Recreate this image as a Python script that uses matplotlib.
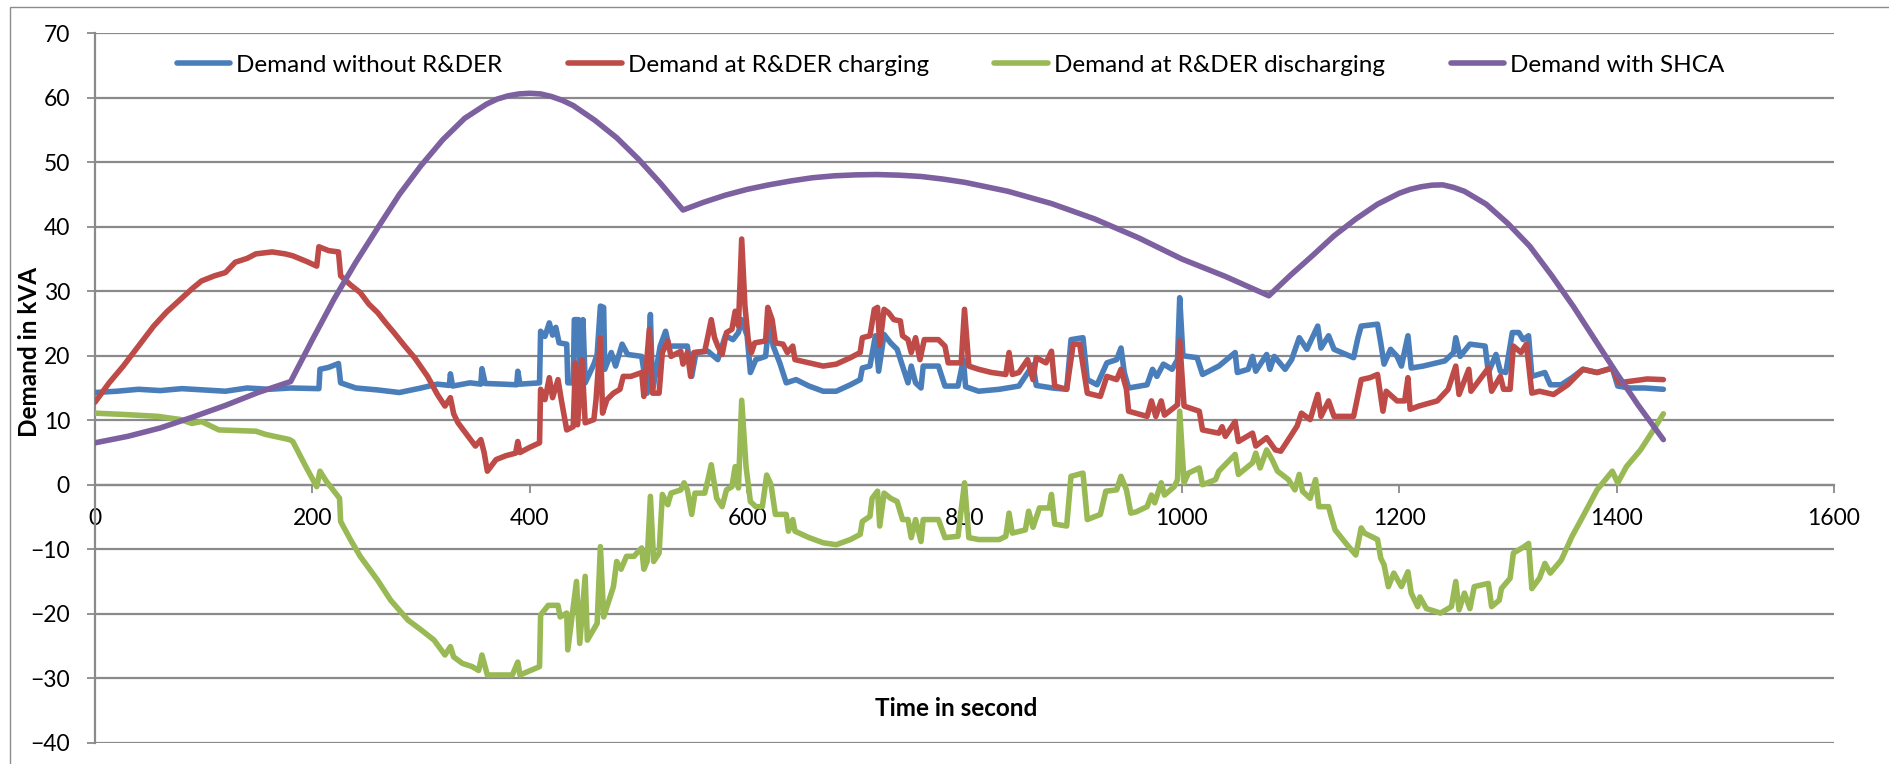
import numpy as np
import matplotlib
matplotlib.use("Agg")
import matplotlib.pyplot as plt
from matplotlib.patches import Rectangle

plt.rcParams['font.family'] = ['Lato', 'DejaVu Sans']

# (time in s, demand in kVA) read per series
without_der = [
    (0, 14.3), (20, 14.5), (40, 14.8), (60, 14.6), (80, 14.9), (100, 14.7), (120, 14.5), (140, 15.0),
    (160, 14.8), (180, 15.0), (206, 14.9), (207, 17.9), (215, 18.2), (224, 18.8), (226, 15.8), (240, 15.0),
    (260, 14.7), (280, 14.3), (300, 15.0), (315, 15.6), (326, 15.4), (327, 17.2), (329, 15.3), (345, 15.8),
    (355, 15.6), (356, 18.0), (359, 15.7), (375, 15.6), (388, 15.5), (389, 17.6), (391, 15.6), (409, 15.8),
    (410, 23.8), (414, 23.0), (418, 25.1), (421, 23.2), (424, 24.4), (427, 22.0), (434, 21.8), (435, 15.8),
    (440, 15.8), (441, 25.6), (445, 25.6), (446, 15.8), (448, 15.8), (449, 25.6), (451, 15.8), (459, 18.7),
    (462, 20.2), (465, 27.7), (468, 27.5), (469, 17.9), (475, 20.5), (479, 18.4), (485, 21.8), (490, 20.2),
    (503, 19.9), (508, 14.2), (511, 26.4), (513, 14.5), (520, 21.5), (525, 23.8), (528, 21.5), (545, 21.5),
    (549, 16.8), (553, 20.5), (564, 20.7), (573, 19.4), (580, 23.1), (587, 22.5), (592, 23.6), (595, 25.6),
    (600, 23.1), (603, 17.4), (608, 19.4), (617, 19.9), (620, 25.1), (624, 21.5), (630, 18.9), (636, 15.8),
    (645, 16.3), (657, 15.3), (670, 14.5), (682, 14.5), (695, 15.5), (704, 16.3), (706, 18.1), (713, 18.4),
    (718, 23.1), (721, 17.6), (726, 23.3), (732, 22.0), (738, 21.0), (743, 18.4), (748, 15.8), (751, 18.4),
    (755, 15.8), (760, 15.0), (762, 18.4), (776, 18.4), (782, 15.3), (794, 15.3), (799, 19.4), (801, 15.2),
    (813, 14.5), (832, 14.8), (850, 15.3), (863, 18.6), (866, 15.4), (881, 15.0), (894, 14.8), (898, 22.5),
    (909, 22.8), (913, 16.3), (922, 15.5), (931, 18.9), (940, 19.4), (944, 21.2), (947, 17.4), (951, 15.0),
    (968, 15.5), (973, 17.9), (977, 16.8), (983, 18.7), (991, 17.9), (996, 19.4), (998, 29.0), (1001, 20.0),
    (1014, 19.7), (1019, 17.1), (1034, 18.4), (1049, 20.5), (1051, 17.4), (1061, 17.9), (1065, 19.9),
    (1068, 17.6), (1078, 20.2), (1081, 17.9), (1085, 19.9), (1095, 17.9), (1101, 19.4), (1108, 22.8),
    (1115, 21.0), (1125, 24.6), (1128, 21.2), (1135, 23.1), (1140, 21.0), (1151, 20.2), (1158, 19.7),
    (1162, 22.8), (1165, 24.6), (1180, 24.9), (1183, 22.0), (1186, 18.7), (1192, 21.0), (1198, 19.9),
    (1202, 18.4), (1208, 23.1), (1211, 18.1), (1222, 18.4), (1242, 19.2), (1250, 20.5), (1252, 22.8),
    (1256, 19.9), (1265, 21.8), (1279, 21.5), (1282, 17.4), (1289, 20.2), (1293, 17.6), (1298, 17.4),
    (1304, 23.6), (1310, 23.6), (1314, 22.5), (1319, 23.1), (1322, 16.8), (1334, 17.4), (1339, 15.5),
    (1349, 15.5), (1359, 16.6), (1369, 17.9), (1382, 17.4), (1396, 18.1), (1401, 15.3), (1412, 15.0),
    (1426, 15.0), (1443, 14.8),
]

charging = [
    (0, 12.8), (13, 15.8), (26, 18.4), (40, 21.5), (54, 24.6), (66, 26.8), (79, 28.8), (90, 30.5),
    (98, 31.6), (110, 32.4), (120, 32.9), (129, 34.5), (140, 35.1), (148, 35.8), (163, 36.1), (175, 35.8),
    (182, 35.5), (195, 34.6), (204, 33.9), (206, 36.9), (215, 36.3), (224, 36.1), (226, 32.4), (235, 31.0),
    (244, 29.8), (252, 28.0), (260, 26.7), (268, 25.0), (275, 23.6), (285, 21.5), (294, 19.7), (306, 16.8),
    (315, 14.0), (322, 12.2), (327, 13.5), (330, 11.0), (334, 9.6), (342, 7.8), (350, 6.0), (355, 7.0),
    (358, 5.0), (361, 2.1), (369, 3.9), (378, 4.5), (387, 4.9), (389, 6.7), (391, 5.0), (400, 5.8),
    (409, 6.5), (410, 14.8), (414, 13.2), (418, 16.6), (421, 13.5), (426, 16.3), (429, 13.2), (434, 8.5),
    (440, 9.0), (442, 18.9), (444, 9.3), (448, 19.4), (451, 9.6), (459, 10.1), (461, 13.2), (465, 22.8),
    (467, 11.1), (471, 13.2), (477, 14.2), (483, 14.8), (486, 16.8), (493, 16.8), (503, 17.4), (505, 13.7),
    (510, 24.1), (513, 14.2), (519, 14.2), (522, 20.5), (527, 22.3), (530, 19.9), (539, 20.7), (541, 18.7),
    (545, 20.5), (548, 16.8), (551, 20.5), (561, 20.7), (564, 23.1), (567, 25.6), (570, 22.8), (573, 21.5),
    (577, 20.2), (581, 23.6), (586, 24.1), (589, 26.9), (592, 24.6), (595, 38.1), (598, 27.7), (601, 22.5),
    (604, 20.5), (607, 22.0), (617, 22.3), (619, 27.5), (623, 25.6), (626, 22.0), (633, 21.8), (637, 20.5),
    (642, 21.5), (644, 19.4), (657, 18.9), (670, 18.4), (682, 18.7), (695, 19.7), (704, 20.5), (706, 22.8),
    (713, 23.1), (717, 27.2), (720, 27.5), (722, 21.6), (726, 27.2), (730, 26.7), (735, 25.6), (741, 25.4),
    (743, 23.1), (748, 22.5), (751, 20.5), (755, 22.8), (759, 19.4), (763, 22.5), (776, 22.5), (782, 21.5),
    (785, 18.9), (797, 18.9), (800, 27.2), (804, 18.4), (813, 17.9), (825, 17.4), (838, 17.1), (841, 20.5),
    (844, 17.1), (850, 17.4), (858, 19.4), (863, 16.3), (866, 19.7), (875, 18.9), (880, 20.7), (883, 15.3),
    (894, 14.8), (900, 21.8), (906, 21.8), (913, 14.2), (925, 13.7), (931, 16.8), (940, 16.3), (944, 17.9),
    (949, 14.8), (951, 11.4), (968, 10.6), (972, 13.0), (976, 10.6), (981, 13.0), (984, 10.8), (996, 12.4),
    (998, 22.3), (1002, 12.2), (1016, 11.4), (1019, 8.5), (1034, 8.0), (1037, 9.0), (1040, 7.5), (1049, 9.8),
    (1052, 6.7), (1065, 8.0), (1068, 6.0), (1078, 7.3), (1086, 5.4), (1091, 5.2), (1098, 7.0), (1106, 9.1),
    (1110, 11.1), (1118, 10.1), (1125, 14.0), (1128, 10.6), (1135, 13.0), (1140, 10.6), (1158, 10.6),
    (1165, 16.3), (1173, 16.6), (1180, 17.1), (1185, 11.4), (1188, 14.5), (1198, 13.0), (1205, 13.0),
    (1208, 16.6), (1210, 11.7), (1218, 12.2), (1235, 13.0), (1245, 14.8), (1252, 18.4), (1255, 14.0),
    (1264, 17.9), (1266, 14.5), (1282, 18.1), (1285, 14.5), (1293, 16.8), (1296, 14.8), (1302, 14.8),
    (1305, 21.5), (1312, 20.5), (1317, 21.8), (1322, 14.2), (1329, 14.5), (1342, 14.0), (1355, 15.5),
    (1369, 17.9), (1382, 17.4), (1396, 18.1), (1402, 15.8), (1415, 16.1), (1428, 16.4), (1443, 16.3),
]

discharging = [
    (0, 11.1), (26, 10.9), (58, 10.6), (79, 10.1), (89, 9.5), (98, 9.8), (114, 8.5), (132, 8.4),
    (148, 8.3), (157, 7.8), (179, 7.0), (182, 6.7), (194, 2.8), (204, -0.3), (207, 2.1), (213, 0.5),
    (225, -2.1), (226, -5.7), (235, -8.5), (244, -11.1), (260, -14.8), (272, -17.9), (288, -21.0),
    (300, -22.5), (312, -24.1), (322, -26.4), (327, -25.1), (330, -26.7), (338, -27.7), (347, -28.2),
    (353, -28.8), (356, -26.4), (361, -29.5), (384, -29.5), (389, -27.5), (391, -29.5), (409, -28.2),
    (410, -20.2), (417, -18.7), (426, -18.7), (428, -20.5), (434, -19.9), (435, -25.6), (443, -15.0),
    (446, -24.6), (451, -14.2), (453, -24.1), (462, -21.5), (465, -9.6), (468, -20.5), (477, -15.8),
    (480, -11.9), (484, -13.1), (489, -11.1), (496, -11.1), (500, -10.3), (503, -9.8), (505, -13.1),
    (508, -11.9), (511, -1.8), (514, -11.9), (519, -10.6), (522, -1.5), (527, -3.1), (530, -1.3),
    (539, -0.8), (542, 0.3), (545, -0.8), (549, -4.6), (552, -1.3), (561, -1.3), (564, 0.8), (567, 3.1),
    (572, -2.1), (577, -3.4), (581, -0.8), (586, -0.3), (589, 2.8), (592, -0.5), (595, 13.1), (599, 2.8),
    (603, -2.6), (608, -3.4), (614, -3.4), (618, 1.5), (622, 0.0), (626, -4.6), (636, -4.6), (638, -7.2),
    (642, -5.4), (644, -7.2), (657, -8.2), (670, -9.0), (682, -9.3), (695, -8.5), (704, -7.7), (706, -5.7),
    (713, -4.9), (715, -2.1), (720, -1.0), (722, -6.4), (726, -1.3), (732, -2.1), (738, -2.6), (743, -5.4),
    (748, -5.4), (751, -8.2), (755, -5.4), (760, -8.8), (762, -5.4), (776, -5.4), (782, -8.2), (794, -8.0),
    (800, 0.3), (804, -8.2), (813, -8.5), (832, -8.5), (838, -8.0), (841, -4.4), (844, -7.5), (856, -7.0),
    (859, -4.1), (863, -6.6), (869, -3.6), (878, -3.6), (880, -1.5), (883, -6.1), (894, -6.4), (898, 1.3),
    (909, 1.8), (913, -5.4), (925, -4.6), (930, -1.0), (940, -0.8), (944, 1.3), (949, -0.8), (953, -4.4),
    (958, -4.2), (968, -3.4), (972, -1.6), (975, -2.8), (981, 0.3), (984, -1.6), (993, -0.3), (996, 0.8),
    (998, 11.4), (1002, 0.3), (1006, 1.8), (1016, 2.6), (1019, 0.0), (1031, 0.8), (1034, 2.1), (1049, 4.7),
    (1052, 1.6), (1065, 3.4), (1068, 4.9), (1072, 2.6), (1078, 5.4), (1083, 3.9), (1088, 2.1), (1098, 0.8),
    (1104, -0.8), (1108, 1.6), (1111, -1.0), (1118, -2.1), (1123, 0.8), (1126, -3.4), (1135, -3.4),
    (1137, -4.7), (1141, -7.0), (1151, -9.1), (1160, -10.9), (1165, -6.7), (1168, -7.5), (1180, -8.5),
    (1183, -11.4), (1186, -12.4), (1190, -15.8), (1195, -13.7), (1202, -15.8), (1208, -13.5), (1211, -16.8),
    (1217, -18.9), (1219, -17.4), (1225, -19.2), (1238, -19.9), (1248, -18.9), (1252, -15.0), (1255, -19.4),
    (1260, -16.8), (1265, -19.2), (1269, -15.8), (1282, -15.3), (1285, -18.9), (1292, -17.9), (1294, -16.1),
    (1302, -14.5), (1305, -10.6), (1315, -9.6), (1319, -9.1), (1322, -16.1), (1329, -14.5), (1334, -12.2),
    (1339, -13.7), (1349, -11.7), (1359, -8.0), (1369, -4.9), (1382, -0.8), (1396, 2.1), (1401, 0.3),
    (1409, 2.8), (1422, 5.4), (1432, 8.0), (1443, 11.0),
]

with_shca = [
    (0, 6.5), (30, 7.5), (60, 8.8), (90, 10.5), (120, 12.3), (150, 14.3), (180, 16.0), (200, 22.5),
    (220, 28.8), (240, 34.5), (260, 39.8), (280, 45.0), (300, 49.5), (320, 53.5), (340, 56.8), (360, 59.0),
    (370, 59.8), (380, 60.3), (390, 60.6), (400, 60.7), (410, 60.6), (420, 60.2), (430, 59.6), (440, 58.8),
    (460, 56.5), (480, 53.8), (500, 50.5), (520, 46.8), (541, 42.6), (560, 43.8), (580, 44.9), (600, 45.8),
    (620, 46.5), (640, 47.1), (660, 47.6), (680, 47.9), (700, 48.05), (720, 48.1), (740, 48.0), (760, 47.8),
    (780, 47.4), (800, 46.9), (840, 45.5), (880, 43.6), (920, 41.2), (960, 38.3), (1000, 35.0), (1040, 32.3),
    (1080, 29.3), (1100, 32.5), (1120, 35.5), (1140, 38.6), (1160, 41.2), (1180, 43.5), (1200, 45.2),
    (1210, 45.8), (1220, 46.2), (1230, 46.45), (1240, 46.5), (1250, 46.1), (1260, 45.5), (1280, 43.5),
    (1300, 40.5), (1320, 37.0), (1340, 32.5), (1360, 27.7), (1380, 22.5), (1400, 17.3), (1420, 12.3),
    (1443, 7.0),
]

series_names = ['Demand without R&DER', 'Demand at R&DER charging',
                'Demand at R&DER discharging', 'Demand with SHCA']
series_colors = ['#4A7EBB', '#BE4B48', '#98B954', '#7D60A0']

x_ticks = list(range(0, 1601, 200))
y_ticks = list(range(-40, 71, 10))

W, H = 1890, 764
fig = plt.figure(figsize=(W / 100, H / 100), dpi=100)
ax = fig.add_axes([95 / W, 1 - 742.7 / H, 1739 / W, 709.4 / H])

# outer chart border
fig.add_artist(Rectangle((10 / W, -0.1), 2, 1.1 - 7 / H, transform=fig.transFigure,
                         fill=False, ec='#8c8c8c', lw=1.0))

grid_c = '#8a8a8a'
for y in y_ticks:
    ax.axhline(y, color=grid_c, lw=1.6, zorder=1)

for data, name, c in zip([without_der, charging, discharging, with_shca], series_names, series_colors):
    arr = np.array(data)
    ax.plot(arr[:, 0], arr[:, 1], color=c, lw=4.0, label=name, zorder=3,
            solid_joinstyle='round', solid_capstyle='round')

ax.set_xlim(0, 1600)
ax.set_ylim(-40, 70)
ax.set_xticks(x_ticks)
ax.set_yticks(y_ticks)

for s in ['top', 'right']:
    ax.spines[s].set_visible(False)
ax.spines['bottom'].set_position(('data', 0))
ax.spines['bottom'].set_color(grid_c)
ax.spines['bottom'].set_linewidth(1.6)
ax.spines['left'].set_color(grid_c)
ax.spines['left'].set_linewidth(1.6)

ax.tick_params(axis='x', direction='out', length=6, width=1.3, color=grid_c, pad=11, labelsize=16.5)
ax.tick_params(axis='y', direction='out', length=6, width=1.3, color=grid_c, pad=12, labelsize=16.5)

leg = ax.legend(loc='center', bbox_to_anchor=(0.492, 0.9553), ncol=4, frameon=False,
                fontsize=17.5, handlelength=2.2, handletextpad=0.25, columnspacing=2.7)
for line in leg.get_lines():
    line.set_linewidth(4.0)

fig.text(956 / W, 1 - 708 / H, 'Time in second', ha='center', va='center',
         fontsize=17.5, fontweight='bold')
fig.text(30 / W, 1 - 352 / H, 'Demand in kVA', ha='center', va='center',
         rotation=90, fontsize=17.5, fontweight='bold')

fig.savefig('out.png', dpi=100)
